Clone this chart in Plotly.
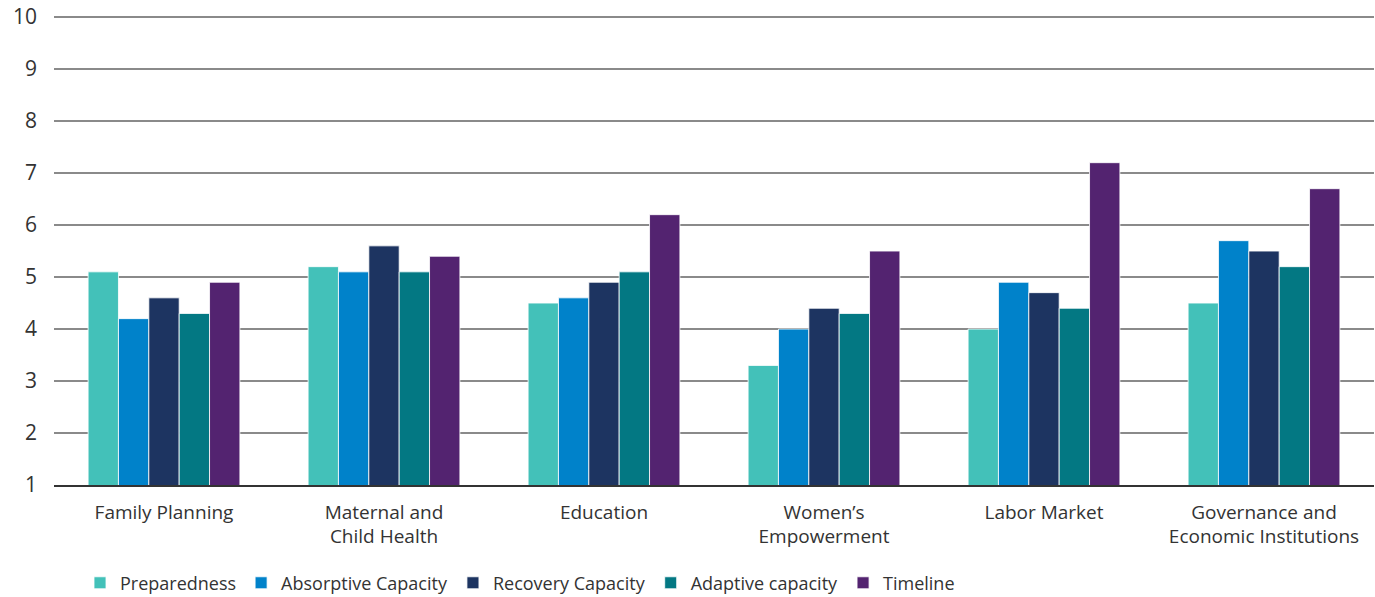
import plotly.graph_objects as go

categories = ["Family Planning", "Maternal and<br>Child Health", "Education",
              "Women’s<br>Empowerment", "Labor Market",
              "Governance and<br>Economic Institutions"]
series_names = ["Preparedness", "Absorptive Capacity", "Recovery Capacity",
                "Adaptive capacity", "Timeline"]
preparedness = [5.1, 5.2, 4.5, 3.3, 4.0, 4.5]
absorptive = [4.2, 5.1, 4.6, 4.0, 4.9, 5.7]
recovery = [4.6, 5.6, 4.9, 4.4, 4.7, 5.5]
adaptive = [4.3, 5.1, 5.1, 4.3, 4.4, 5.2]
timeline = [4.9, 5.4, 6.2, 5.5, 7.2, 6.7]
colors = ["#43C1B9", "#0082CA", "#1D3461", "#037883", "#532370"]
y_ticks = [1, 2, 3, 4, 5, 6, 7, 8, 9, 10]

FONT = "Open Sans, DejaVu Sans, sans-serif"

fig = go.Figure()
for name, vals, col in zip(series_names,
                           [preparedness, absorptive, recovery, adaptive, timeline],
                           colors):
    fig.add_trace(go.Bar(x=categories, y=vals, name=name,
                         marker=dict(color=col, line=dict(color="rgba(255,255,255,0.8)", width=1))))

fig.update_layout(
    width=1375, height=597,
    barmode="group", bargap=0.31, bargroupgap=0,
    plot_bgcolor="white", paper_bgcolor="white",
    margin=dict(l=54, r=1, t=14, b=112, autoexpand=False),
    font=dict(family=FONT, color="#333333"),
    legend=dict(orientation="h", x=0.0197, xanchor="left", y=-0.2475, yanchor="bottom",
                font=dict(size=18, color="#333333"), itemwidth=30,
                tracegroupgap=0, traceorder="normal"),
    showlegend=True,
)
fig.update_yaxes(range=[1, 10.06], tickvals=y_ticks, showgrid=True,
                 gridcolor="#8a8a8a", gridwidth=1.5, zeroline=False,
                 tickfont=dict(size=21, color="#333333"), automargin=False,
                 ticklabeloverflow="allow",
                 ticklabelstandoff=16, showline=False)
fig.update_xaxes(showline=True, linecolor="#333333", linewidth=1.5, automargin=False,
                 tickfont=dict(size=19, color="#333333"), ticks="",
                 ticklabeloverflow="allow",
                 ticklabelstandoff=9)

fig.write_html("out.html", config={"displayModeBar": False},
               post_script="document.body.style.margin='0';")
